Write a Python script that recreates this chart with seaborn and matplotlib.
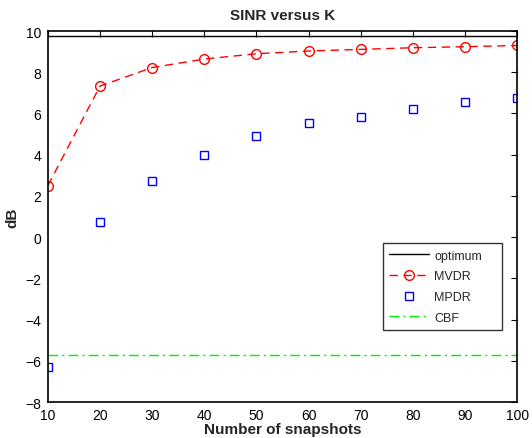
import matplotlib
matplotlib.use("Agg")
import matplotlib.pyplot as plt
import seaborn as sns
import pandas as pd

snapshots = [10, 20, 30, 40, 50, 60, 70, 80, 90, 100]
optimum = [9.74] * 10
mvdr = [2.5, 7.33, 8.23, 8.64, 8.90, 9.03, 9.11, 9.19, 9.24, 9.30]
mpdr = [-6.3, 0.75, 2.7, 3.97, 4.9, 5.55, 5.85, 6.23, 6.54, 6.77]
cbf = [-5.72] * 10

sns.set_style("white")
plt.rcParams['font.family'] = ['Liberation Sans', 'DejaVu Sans']

fig = plt.figure(figsize=(5.32, 4.39), dpi=100)
ax = fig.add_axes([0.090, 0.082, 0.882, 0.845])

df = pd.DataFrame({"K": snapshots, "opt": optimum, "mvdr": mvdr, "mpdr": mpdr, "cbf": cbf})

sns.lineplot(data=df, x="K", y="opt", ax=ax, color="black", lw=1.0, label="optimum")
sns.lineplot(data=df, x="K", y="mvdr", ax=ax, color="red", lw=1.0, marker="o",
             markersize=7, markerfacecolor="none", markeredgecolor="red", markeredgewidth=1.0,
             label="MVDR")
ax.lines[-1].set_linestyle((0, (6, 4)))
sns.lineplot(data=df, x="K", y="mpdr", ax=ax, color="blue", lw=0, marker="s",
             markersize=6, markerfacecolor="none", markeredgecolor="blue", markeredgewidth=1.0,
             label="MPDR")
sns.lineplot(data=df, x="K", y="cbf", ax=ax, color="#00ee00", lw=1.0, label="CBF")
ax.lines[-1].set_linestyle((0, (7, 3, 1.5, 3)))

ax.set_xlim(10, 100)
ax.set_ylim(-8, 10)
ax.set_xticks(range(10, 101, 10))
ax.set_yticks(range(-8, 11, 2))
ax.set_yticklabels(["\u22128", "\u22126", "\u22124", "\u22122", "0", "2", "4", "6", "8", "10"])
ax.tick_params(direction="in", top=True, right=True, length=4, width=0.8, labelsize=10,
               colors="black")
ax.tick_params(axis="y", pad=5)
ax.tick_params(axis="x", pad=4)
for s in ax.spines.values():
    s.set_color("black")
    s.set_linewidth(1.2)
    s.set_visible(True)

ax.set_title("SINR versus K", fontsize=11, fontweight="bold", pad=9)
ax.set_xlabel("Number of snapshots", fontsize=11, fontweight="bold", labelpad=0)
ax.set_ylabel("dB", fontsize=11, fontweight="bold", labelpad=4)

leg = ax.legend(loc="lower left", bbox_to_anchor=(0.714, 0.194, 0.254, 0.253), mode="expand",
                fontsize=9, frameon=True, fancybox=False, edgecolor="black",
                borderpad=0.5, labelspacing=0.7, handlelength=3.2, handletextpad=0.4,
                borderaxespad=0)
leg.get_frame().set_linewidth(1.0)

fig.savefig("out.png", dpi=100)
